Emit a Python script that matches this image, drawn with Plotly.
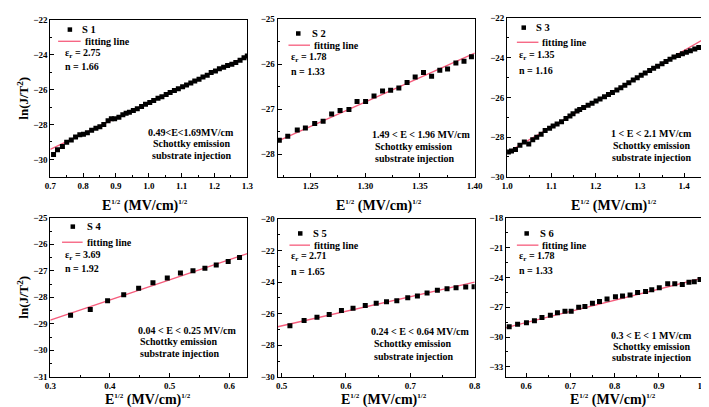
import plotly.graph_objects as go

W, H = 709, 407

# ---------------- data ----------------
s1_x = [0.710, 0.722, 0.737, 0.750, 0.764, 0.777, 0.790, 0.801, 0.813, 0.826, 0.839, 0.851,
        0.863, 0.876, 0.886, 0.896, 0.909, 0.921, 0.931, 0.941, 0.953, 0.965, 0.978, 0.990,
        1.003, 1.015, 1.028, 1.040, 1.053, 1.065, 1.078, 1.090, 1.103, 1.115, 1.128, 1.140,
        1.153, 1.165, 1.178, 1.190, 1.203, 1.215, 1.228, 1.240, 1.253, 1.265, 1.278, 1.290, 1.300]
s1_y = [-29.72, -29.44, -29.26, -29.02, -28.89, -28.71, -28.59, -28.56, -28.47, -28.33, -28.22, -28.13,
        -28.00, -27.78, -27.67, -27.67, -27.58, -27.44, -27.36, -27.30, -27.20, -27.10, -26.97, -26.84,
        -26.74, -26.62, -26.50, -26.41, -26.28, -26.17, -26.05, -25.95, -25.84, -25.73, -25.62, -25.50,
        -25.40, -25.28, -25.17, -25.02, -24.93, -24.80, -24.72, -24.62, -24.55, -24.45, -24.32, -24.18, -24.08]
fit1_x = [0.70, 1.30]
fit1_y = [-29.42, -24.07]

s2_x = [1.2215, 1.2292, 1.2379, 1.2453, 1.2538, 1.2615, 1.2693, 1.2770, 1.2851, 1.2925, 1.3003, 1.3080,
        1.3158, 1.3232, 1.3307, 1.3382, 1.3456, 1.3532, 1.3606, 1.3681, 1.3752, 1.3828, 1.3902, 1.3970]
s2_y = [-27.69, -27.60, -27.46, -27.42, -27.32, -27.27, -27.11, -27.03, -27.01, -26.83, -26.83, -26.71,
        -26.60, -26.58, -26.53, -26.41, -26.29, -26.19, -26.27, -26.14, -26.11, -25.98, -25.94, -25.84]
fit2_x = [1.22, 1.40]
fit2_y = [-27.71, -25.76]

s3_x = [1.003, 1.010, 1.019, 1.029, 1.039, 1.049, 1.058, 1.067, 1.077, 1.086, 1.096, 1.104, 1.113,
        1.123, 1.133, 1.142, 1.149, 1.158, 1.164, 1.173, 1.183, 1.192, 1.201, 1.210, 1.220, 1.229,
        1.238, 1.248, 1.257, 1.266, 1.275, 1.285, 1.294, 1.303, 1.312, 1.322, 1.331, 1.340, 1.350,
        1.359, 1.368, 1.377, 1.387, 1.396, 1.405, 1.414, 1.424, 1.433, 1.444]
s3_y = [-28.75, -28.70, -28.62, -28.41, -28.24, -28.34, -28.13, -28.00, -27.85, -27.67, -27.55, -27.44, -27.34,
        -27.23, -27.06, -26.94, -26.82, -26.69, -26.61, -26.51, -26.39, -26.29, -26.18, -26.08, -25.97, -25.86,
        -25.76, -25.63, -25.51, -25.39, -25.27, -25.13, -25.01, -24.89, -24.77, -24.65, -24.54, -24.43, -24.31,
        -24.20, -24.08, -23.97, -23.89, -23.81, -23.73, -23.66, -23.57, -23.49, -23.40]
fit3_x = [1.0, 1.445]
fit3_y = [-28.78, -23.06]

s4_x = [0.334, 0.367, 0.396, 0.423, 0.448, 0.472, 0.496, 0.518, 0.539, 0.559, 0.578, 0.598, 0.617]
s4_y = [-28.68, -28.46, -28.13, -27.90, -27.66, -27.45, -27.27, -27.08, -27.00, -26.90, -26.78, -26.65, -26.50]
fit4_x = [0.30, 0.63]
fit4_y = [-28.86, -26.35]

s5_x = [0.513, 0.535, 0.555, 0.574, 0.593, 0.611, 0.630, 0.647, 0.663, 0.679, 0.696, 0.711,
        0.726, 0.742, 0.757, 0.771, 0.786, 0.799]
s5_y = [-26.77, -26.44, -26.23, -26.05, -25.80, -25.66, -25.49, -25.35, -25.25, -25.19, -25.00, -24.88,
        -24.69, -24.52, -24.43, -24.36, -24.32, -24.30]
fit5_x = [0.494, 0.80]
fit5_y = [-26.83, -24.01]

s6_x = [0.562, 0.581, 0.601, 0.619, 0.636, 0.655, 0.671, 0.688, 0.702, 0.719, 0.733, 0.750, 0.766,
        0.783, 0.802, 0.818, 0.835, 0.852, 0.870, 0.884, 0.901, 0.920, 0.936, 0.953, 0.968, 0.980, 0.993]
s6_y = [-28.95, -28.72, -28.56, -28.36, -28.03, -27.80, -27.54, -27.41, -27.41, -26.99, -26.92, -26.60, -26.43,
        -26.17, -25.94, -25.87, -25.77, -25.52, -25.42, -25.23, -25.03, -24.64, -24.64, -24.70, -24.47, -24.44, -24.21]
fit6_x = [0.555, 1.0]
fit6_y = [-29.05, -24.05]

sample_names = ["S 1", "S 2", "S 3", "S 4", "S 5", "S 6"]
eps_r = ["2.75", "1.78", "1.35", "3.69", "2.71", "1.78"]
n_vals = ["1.66", "1.33", "1.16", "1.92", "1.65", "1.33"]
conditions = ["0.49<E<1.69MV/cm", "1.49 < E < 1.96 MV/cm", "1 < E < 2.1 MV/cm",
              "0.04 < E < 0.25 MV/cm", "0.24 < E < 0.64 MV/cm", "0.3 < E < 1 MV/cm"]

x_ranges = [[0.7, 1.3], [1.22, 1.40], [1.0, 1.445], [0.3, 0.63], [0.494, 0.8], [0.555, 1.0]]
y_ranges = [[-31, -22], [-28.5, -25], [-30, -22], [-31, -25], [-30, -20], [-34, -18]]
x_ticks = [[0.7, 0.8, 0.9, 1.0, 1.1, 1.2, 1.3], [1.25, 1.30, 1.35, 1.40], [1.0, 1.1, 1.2, 1.3, 1.4],
           [0.3, 0.4, 0.5, 0.6], [0.5, 0.6, 0.7, 0.8], [0.6, 0.7, 0.8, 0.9, 1.0]]
x_fmt = [".1f", ".2f", ".1f", ".1f", ".1f", ".1f"]
y_ticks = [[-30, -28, -26, -24, -22], [-28, -27, -26, -25], [-30, -28, -26, -24, -22],
           [-31, -30, -29, -28, -27, -26, -25], [-30, -28, -26, -24, -22, -20], [-33, -30, -27, -24, -21, -18]]

data = [(s1_x, s1_y, fit1_x, fit1_y), (s2_x, s2_y, fit2_x, fit2_y), (s3_x, s3_y, fit3_x, fit3_y),
        (s4_x, s4_y, fit4_x, fit4_y), (s5_x, s5_y, fit5_x, fit5_y), (s6_x, s6_y, fit6_x, fit6_y)]

# ---------------- layout geometry (pixels) ----------------
boxes = [(37, 7, 238, 168), (269, 6, 470, 168), (503, 5, 704, 168),
         (37, 210, 238, 373), (269, 211, 470, 373), (502, 210, 703, 373)]

FONT = "Liberation Serif, Times New Roman, serif"
RED = "rgb(246,92,124)"


def px(x):
    return x / W


def py(y):
    return 1 - y / H


fig = go.Figure()
layout = dict(width=W, height=H, margin=dict(l=0, r=0, t=0, b=0),
              paper_bgcolor="white", plot_bgcolor="white", showlegend=False,
              font=dict(family=FONT, size=10, color="black"))
annotations = []
shapes = []

for i, (xs, ys, fx, fy) in enumerate(data):
    k = "" if i == 0 else str(i + 1)
    fig.add_trace(go.Scatter(x=fx, y=fy, mode="lines", line=dict(color=RED, width=1.3),
                             xaxis="x" + k, yaxis="y" + k, hoverinfo="skip"))
    fig.add_trace(go.Scatter(x=xs, y=ys, mode="markers",
                             marker=dict(symbol="square", size=5, color="black"),
                             xaxis="x" + k, yaxis="y" + k))
    l, t, r, b = boxes[i]
    ymaj = y_ticks[i][1] - y_ticks[i][0]
    xmaj = x_ticks[i][1] - x_ticks[i][0]
    layout["xaxis" + k] = dict(domain=[px(l), px(r)], range=x_ranges[i], anchor="y" + k,
                               tickvals=x_ticks[i], tickformat=x_fmt[i],
                               ticks="inside", ticklen=4, tickwidth=1, tickcolor="black",
                               minor=dict(dtick=xmaj / 2, tick0=x_ticks[i][0], ticks="inside",
                                          ticklen=2, tickcolor="black"),
                               showline=True, linecolor="black", linewidth=1, mirror=True,
                               showgrid=False, zeroline=False,
                               tickfont=dict(family=FONT, size=9, color="black", weight="bold"))
    layout["yaxis" + k] = dict(domain=[py(b), py(t)], range=y_ranges[i], anchor="x" + k,
                               tickvals=y_ticks[i],
                               ticks="inside", ticklen=4, tickwidth=1, tickcolor="black",
                               minor=dict(dtick=ymaj / 2, tick0=y_ticks[i][0], ticks="inside",
                                          ticklen=2, tickcolor="black"),
                               showline=True, linecolor="black", linewidth=1, mirror=True,
                               showgrid=False, zeroline=False,
                               tickfont=dict(family=FONT, size=9, color="black", weight="bold"))

# ---------------- in-panel text (pixel positions) ----------------
# (marker x, marker y, S-label x, line x0, line x1, line y, fit label x, eps x, eps y, n y)
legend_pos = [
    (57, 17, 67, 45, 68, 29, 70, 50, 42, 55),
    (290, 21, 302, 280, 302, 33, 304, 281, 46, 60),
    (520, 15, 530, 513, 535, 30, 537, 513, 44, 59),
    (60, 219, 72, 49, 70, 235, 72, 50, 249, 262),
    (292, 226, 303, 281, 302, 238, 304, 281, 250, 265),
    (523, 226, 535, 513, 535, 238, 537, 513, 250, 264),
]
# (x, anchor, y1, y2, y3)
cond_pos = [
    (181, "center", 122, 134, 146),
    (363, "left", 125, 137, 149),
    (650, "center", 124, 136, 148),
    (124, "left", 325, 337, 349),
    (362, "left", 327, 339, 352),
    (650, "center", 331, 342, 353),
]


def ann(x, y, text, anchor="left", size=10, angle=0):
    annotations.append(dict(x=px(x), y=py(y), xref="paper", yref="paper", text=text,
                            showarrow=False, xanchor=anchor, yanchor="middle", textangle=angle,
                            font=dict(family=FONT, size=size, color="black")))


for i in range(6):
    mx, my, sx, lx0, lx1, ly, fx, ex, ey, ny = legend_pos[i]
    shapes.append(dict(type="rect", xref="paper", yref="paper",
                       x0=px(mx - 2.3), x1=px(mx + 2.3), y0=py(my + 2.3), y1=py(my - 2.3),
                       fillcolor="black", line=dict(width=0)))
    ann(sx, my, "<b>" + sample_names[i] + "</b>", size=10.5)
    shapes.append(dict(type="line", xref="paper", yref="paper",
                       x0=px(lx0), x1=px(lx1), y0=py(ly), y1=py(ly),
                       line=dict(color=RED, width=1.3)))
    ann(fx, ly, "<b>fitting line</b>")
    ann(ex, ey, "<b>ε<sub>r</sub> = " + eps_r[i] + "</b>")
    ann(ex, ny, "<b>n = " + n_vals[i] + "</b>")
    cx, anc, y1, y2, y3 = cond_pos[i]
    if anc == "center":
        ann(cx, y1, "<b>" + conditions[i] + "</b>", "center")
        ann(cx, y2, "<b>Schottky emission</b>", "center")
        ann(cx + 1, y3, "<b>substrate injection</b>", "center")
    else:
        ann(cx, y1, "<b>" + conditions[i] + "</b>", "left")
        ann(cx + 3, y2, "<b>Schottky emission</b>", "left")
        ann(cx + 3, y3, "<b>substrate injection</b>", "left")

# axis titles
SUP = "<sup><span style='font-size:7px'>1/2</span></sup>"
xtitle = "<b>E" + SUP + " (MV/cm)" + SUP + "</b>"
for cx, cy in [(134, 198), (372, 198), (612, 198), (137, 397), (377, 397), (611, 397)]:
    ann(cx, cy, xtitle, "center", size=14)
for cy in [87, 291]:
    ann(9, cy, "<b>ln(J/T<sup>2</sup>)</b>", "center", size=13, angle=-90)

layout["annotations"] = annotations
layout["shapes"] = shapes
fig.update_layout(**layout)
fig.write_html("out.html")
